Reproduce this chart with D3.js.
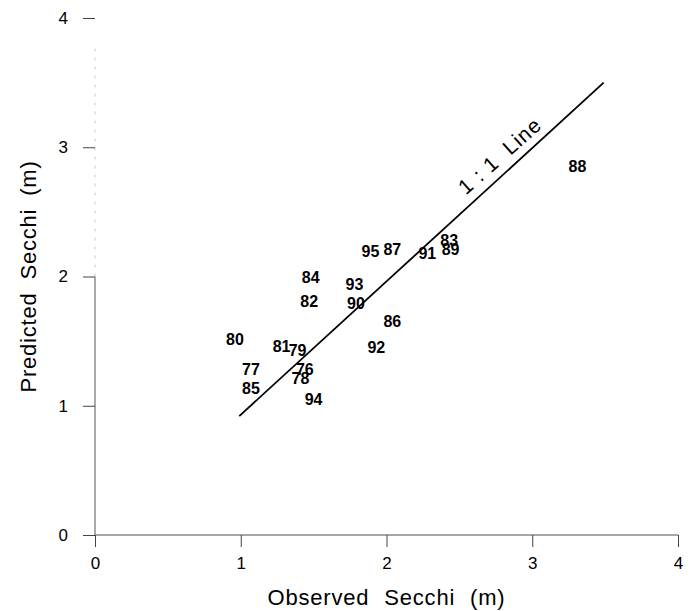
<!DOCTYPE html>
<html>
<head>
<meta charset="utf-8">
<script src="https://cdn.jsdelivr.net/npm/d3@7"></script>
<style>
  body { margin: 0; background: #fff; }
  text { font-family: "Liberation Sans", Arial, Helvetica, sans-serif; }
</style>
</head>
<body>
<div id="chart"></div>
<script>
// year labels and their observed / predicted secchi depth (m)
const years = ["80", "77", "85", "81", "79", "76", "78", "94", "84", "82",
               "93", "90", "86", "92", "95", "87", "91", "83", "89", "88"]
const observed = [0.96, 1.07, 1.07, 1.28, 1.39, 1.44, 1.41, 1.50, 1.48, 1.47,
                  1.78, 1.79, 2.04, 1.93, 1.89, 2.04, 2.28, 2.43, 2.44, 3.31]
const predicted = [1.51, 1.28, 1.13, 1.46, 1.43, 1.28, 1.21, 1.05, 1.99, 1.81,
                   1.94, 1.79, 1.65, 1.45, 2.19, 2.21, 2.18, 2.28, 2.21, 2.85]
const xTicks = [0, 1, 2, 3, 4]
const yTicks = [0, 1, 2, 3, 4]
const oneToOne = [[0.99, 0.92], [3.49, 3.5]]

const width = 691, height = 611

const svg = d3.select("#chart").append("svg")
    .attr("width", width)
    .attr("height", height)

const x = d3.scaleLinear().domain([0, 4]).range([95, 678])
const y = d3.scaleLinear().domain([0, 4]).range([535, 18])

// y axis line: solid grey low part, faint above 2
svg.append("line")
    .attr("x1", x(0)).attr("x2", x(0))
    .attr("y1", y(0)).attr("y2", y(2))
    .attr("stroke", "#aaa").attr("stroke-width", 2)
svg.append("line")
    .attr("x1", x(0)).attr("x2", x(0))
    .attr("y1", y(2)).attr("y2", y(3.8))
    .attr("stroke", "#ddd").attr("stroke-width", 1.5)
    .attr("stroke-dasharray", "3,6")

// x axis
const xAxis = d3.axisBottom(x).tickValues(xTicks).tickSize(12).tickPadding(10)
    .tickFormat(d3.format("d"))
const gx = svg.append("g").attr("transform", `translate(0,${y(0)})`).call(xAxis)
gx.select(".domain").attr("stroke", "#888").attr("stroke-width", 1.5)
    .attr("d", `M${x(0)},0H${x(4)}`)
gx.selectAll(".tick line").attr("stroke", "#444")
gx.selectAll(".tick text").attr("font-size", 17).attr("fill", "#000")
    .style("font-family", "Liberation Sans, Arial, sans-serif")

// y axis ticks
const yAxis = d3.axisLeft(y).tickValues(yTicks).tickSize(12).tickPadding(15)
    .tickFormat(d3.format("d"))
const gy = svg.append("g").attr("transform", `translate(${x(0)},0)`).call(yAxis)
gy.select(".domain").remove()
gy.selectAll(".tick line").attr("stroke", "#444")
gy.selectAll(".tick text").attr("font-size", 17).attr("fill", "#000")
    .style("font-family", "Liberation Sans, Arial, sans-serif")

// 1:1 line
svg.append("path")
    .datum(oneToOne)
    .attr("d", d3.line().x(d => x(d[0])).y(d => y(d[1])))
    .attr("fill", "none")
    .attr("stroke", "#000")
    .attr("stroke-width", 1.8)

const angle = Math.atan2(y(3.5) - y(1), x(3.5) - x(1)) * 180 / Math.PI
svg.append("text")
    .attr("transform", `translate(501,157) rotate(${angle})`)
    .attr("text-anchor", "middle")
    .attr("dominant-baseline", "middle")
    .attr("font-size", 21)
    .attr("letter-spacing", 1)
    .style("white-space", "pre")
    .text("1 : 1  Line")

// year labels
svg.append("g").selectAll("text")
    .data(years)
    .enter().append("text")
    .attr("x", (d, i) => x(observed[i]))
    .attr("y", (d, i) => y(predicted[i]))
    .attr("text-anchor", "middle")
    .attr("dominant-baseline", "central")
    .attr("font-size", 16)
    .attr("font-weight", "bold")
    .text(d => d)

// axis titles
svg.append("text")
    .attr("x", x(2))
    .attr("y", 605)
    .attr("text-anchor", "middle")
    .attr("font-size", 22)
    .attr("letter-spacing", 0.8)
    .attr("word-spacing", 8)
    .text("Observed Secchi (m)")

svg.append("text")
    .attr("transform", `translate(36,${y(2)}) rotate(-90)`)
    .attr("text-anchor", "middle")
    .attr("font-size", 22)
    .attr("letter-spacing", 0.8)
    .attr("word-spacing", 6)
    .text("Predicted Secchi (m)")
</script>
</body>
</html>
